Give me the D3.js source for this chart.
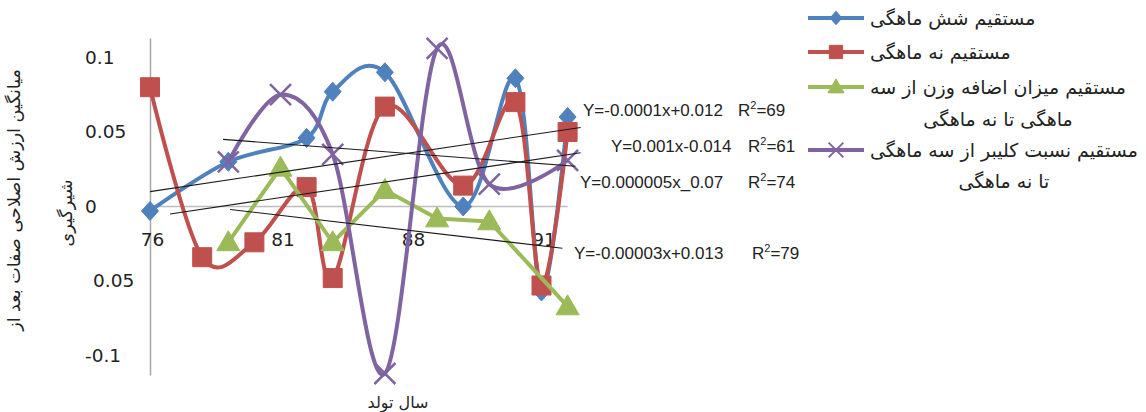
<!DOCTYPE html>
<html>
<head>
<meta charset="utf-8">
<script src="https://cdn.jsdelivr.net/npm/d3@7"></script>
<style>
  body { margin: 0; background: #fff; }
  svg { display: block; }
  text { font-family: "DejaVu Sans", sans-serif; fill: #222; }
</style>
</head>
<body>
<svg id="chart" width="1146" height="412"></svg>
<script>
// ----------------------------
// Data
// 17 birth-year slots, only four of them carry a label
// ----------------------------
var slots = d3.range(17);
var tickSlots = [0, 5, 10, 15];
var tickLabels = ["76", "81", "88", "91"];
var yTicks = [0.1, 0.05, 0, -0.05, -0.1];
var yTickLabels = ["0.1", "0.05", "0", "0.05", "-0.1"];

var sixMonth   = [-0.003, null, null, 0.030, null, null, 0.046, 0.077, null, 0.090, null, null, 0.000, null, 0.086, -0.057, 0.060];
var nineMonth  = [0.080, null, -0.034, null, -0.024, null, 0.013, -0.048, null, 0.067, null, null, 0.014, null, 0.070, -0.053, 0.050];
var weightGain = [null, null, null, -0.024, null, 0.026, null, -0.024, null, 0.011, null, -0.008, null, -0.010, null, null, -0.067];
var kleiber    = [null, null, null, 0.030, null, 0.075, null, 0.035, null, -0.112, null, 0.106, null, 0.015, null, null, 0.031];

var seriesNames = [
  ["مستقیم شش ماهگی"],
  ["مستقیم نه ماهگی"],
  ["مستقیم میزان اضافه وزن از سه", "ماهگی تا نه ماهگی"],
  ["مستقیم نسبت کلیبر از سه ماهگی", "تا نه ماهگی"]
];

// trend lines: [slot, value] at each end
var trendStart = [[0, 0.010], [2.8, 0.045], [0.77, -0.005], [3.07, -0.002]];
var trendEnd   = [[16.5, 0.053], [16.3, 0.027], [16.5, 0.036], [15.8, -0.028]];
var equations = ["Y=-0.0001x+0.012", "Y=0.001x-0.014", "Y=0.000005x_0.07", "Y=-0.00003x+0.013"];
var r2 = ["69", "61", "74", "79"];

var yTitle = ["میانگین ارزش اصلاحی صفات بعد از", "شیرگیری"];
var xTitle = "سال تولد";

// ----------------------------
// Layout
// ----------------------------
var Vis = {};
Vis.svg = d3.select("#chart");
Vis.colors = ["#4F81BD", "#C0504D", "#9BBB59", "#8064A2"];

Vis.x = d3.scaleLinear().domain([0, 16]).range([150, 567.6]);
Vis.y = d3.scaleLinear().domain([-0.113, 0.113]).range([375, 38]);

// custom marker shapes
var diamond = { draw: function (c, s) { c.moveTo(0, -s * 0.56); c.lineTo(s * 0.5, 0); c.lineTo(0, s * 0.56); c.lineTo(-s * 0.5, 0); c.closePath(); } };
var square = { draw: function (c, s) { c.rect(-s / 2, -s / 2, s, s); } };
var triangle = { draw: function (c, s) { c.moveTo(0, -s * 0.55); c.lineTo(s * 0.55, s * 0.4); c.lineTo(-s * 0.55, s * 0.4); c.closePath(); } };
var cross = { draw: function (c, s) { c.moveTo(-s / 2, -s / 2); c.lineTo(s / 2, s / 2); c.moveTo(s / 2, -s / 2); c.lineTo(-s / 2, s / 2); } };

var series = [
  { values: sixMonth, shape: diamond, size: 17, smooth: true, cross: false },
  { values: nineMonth, shape: square, size: 19, smooth: true, cross: false },
  { values: weightGain, shape: triangle, size: 21, smooth: false, cross: false },
  { values: kleiber, shape: cross, size: 21, smooth: true, cross: true }
];

// ----------------------------
// Axes
// ----------------------------
Vis.svg.append("line")
  .attr("x1", Vis.x(0)).attr("x2", Vis.x(16))
  .attr("y1", Vis.y(0)).attr("y2", Vis.y(0))
  .attr("stroke", "#bdbdbd").attr("stroke-width", 1.5);

var yAxis = Vis.svg.append("g")
  .attr("transform", "translate(" + Vis.x(0) + ",0)")
  .call(d3.axisLeft(Vis.y).tickValues(yTicks).tickFormat((d, i) => yTickLabels[i]).tickSize(0).tickSizeOuter(0));
yAxis.select(".domain").attr("stroke", "#a6a6a6").attr("stroke-width", 1.5);
yAxis.selectAll("text")
  .attr("x", (d, i) => i == 3 ? -57 : -65)
  .attr("text-anchor", "start")
  .style("font-family", "DejaVu Sans")
  .style("font-size", "18.5px")
  .attr("fill", "#333");

var xAxis = Vis.svg.append("g")
  .attr("transform", "translate(0," + Vis.y(0) + ")")
  .call(d3.axisBottom(Vis.x).tickValues(tickSlots).tickFormat((d, i) => tickLabels[i]).tickSize(0));
xAxis.select(".domain").remove();
xAxis.selectAll("text")
  .attr("y", 26)
  .attr("dx", 2)
  .style("font-family", "DejaVu Sans")
  .style("font-size", "18.5px")
  .attr("fill", "#333");

// ----------------------------
// Series lines and markers
// ----------------------------
series.forEach(function (s, k) {
  var pts = s.values.map((v, i) => ({ i: i, v: v })).filter(d => d.v != null);
  var line = d3.line()
    .x(d => Vis.x(d.i))
    .y(d => Vis.y(d.v))
    .curve(s.smooth ? d3.curveCardinal.tension(0) : d3.curveLinear);

  Vis.svg.append("path")
    .datum(pts)
    .attr("d", line)
    .attr("fill", "none")
    .attr("stroke", Vis.colors[k])
    .attr("stroke-width", 4)
    .attr("stroke-linejoin", "round");

  Vis.svg.selectAll(".m" + k)
    .data(pts)
    .enter()
    .append("path")
    .attr("class", "m" + k)
    .attr("transform", d => "translate(" + Vis.x(d.i) + "," + Vis.y(d.v) + ")")
    .attr("d", d3.symbol().type(s.shape).size(s.size))
    .attr("fill", s.cross ? "none" : Vis.colors[k])
    .attr("stroke", Vis.colors[k])
    .attr("stroke-width", s.cross ? 2.5 : 1);
});

// ----------------------------
// Trend lines and their equations
// ----------------------------
Vis.svg.selectAll(".trend")
  .data(trendStart)
  .enter()
  .append("line")
  .attr("class", "trend")
  .attr("x1", d => Vis.x(d[0]))
  .attr("y1", d => Vis.y(d[1]))
  .attr("x2", (d, i) => Vis.x(trendEnd[i][0]))
  .attr("y2", (d, i) => Vis.y(trendEnd[i][1]))
  .attr("stroke", "#1a1a1a")
  .attr("stroke-width", 1.1);

var eqX = [583, 611, 580, 574];
var rX = [738, 748, 748, 752];
var eqY = [110, 146, 182, 253];
equations.forEach(function (eq, i) {
  var t = Vis.svg.append("text")
    .attr("y", eqY[i])
    .attr("dy", "0.36em")
    .style("font-family", "Liberation Sans")
    .style("font-size", "17px");
  t.append("tspan").attr("x", eqX[i]).text(eq);
  t.append("tspan").attr("x", rX[i]).text("R");
  t.append("tspan").attr("dy", -7).style("font-size", "11px").text("2");
  t.append("tspan").attr("dy", 7).text("=" + r2[i]);
});

// ----------------------------
// Legend
// ----------------------------
var legendY = [[18], [52], [87, 119], [150, 181]];
var legendFont = 18;
var probe = Vis.svg.append("text").style("font-size", "18px").text(seriesNames[3][0]);
legendFont = 18 * 268 / probe.node().getComputedTextLength();
probe.remove();

series.forEach(function (s, k) {
  var ly = legendY[k][0];
  Vis.svg.append("line")
    .attr("x1", 808).attr("x2", 864)
    .attr("y1", ly).attr("y2", ly)
    .attr("stroke", Vis.colors[k]).attr("stroke-width", 4);
  Vis.svg.append("path")
    .attr("transform", "translate(836," + ly + ")")
    .attr("d", d3.symbol().type(s.shape).size(s.size * 0.7))
    .attr("fill", s.cross ? "none" : Vis.colors[k])
    .attr("stroke", Vis.colors[k])
    .attr("stroke-width", s.cross ? 2 : 1);

  var first = Vis.svg.append("text")
    .attr("x", 870).attr("y", ly)
    .attr("dy", "0.35em")
    .style("font-size", legendFont + "px")
    .text(seriesNames[k][0]);
  if (seriesNames[k].length > 1) {
    var w = first.node().getComputedTextLength();
    Vis.svg.append("text")
      .attr("x", 870 + w / 2).attr("y", legendY[k][1])
      .attr("dy", "0.35em")
      .attr("text-anchor", "middle")
      .style("font-size", legendFont + "px")
      .text(seriesNames[k][1]);
  }
});

// ----------------------------
// Axis titles
// ----------------------------
var titleFont = 18;
var probe2 = Vis.svg.append("text").style("font-size", "18px").text(yTitle[0]);
titleFont = 18 * 262 / probe2.node().getComputedTextLength();
probe2.remove();

Vis.svg.append("text")
  .attr("transform", "translate(14,200) rotate(-90)")
  .attr("text-anchor", "middle")
  .attr("dy", "0.35em")
  .style("font-size", titleFont + "px")
  .text(yTitle[0]);
Vis.svg.append("text")
  .attr("transform", "translate(66,213) rotate(-90)")
  .attr("text-anchor", "middle")
  .attr("dy", "0.35em")
  .style("font-size", titleFont + "px")
  .text(yTitle[1]);

Vis.svg.append("text")
  .attr("x", 398).attr("y", 402)
  .attr("text-anchor", "middle")
  .attr("dy", "0.35em")
  .style("font-size", "16px")
  .text(xTitle);
</script>
</body>
</html>
